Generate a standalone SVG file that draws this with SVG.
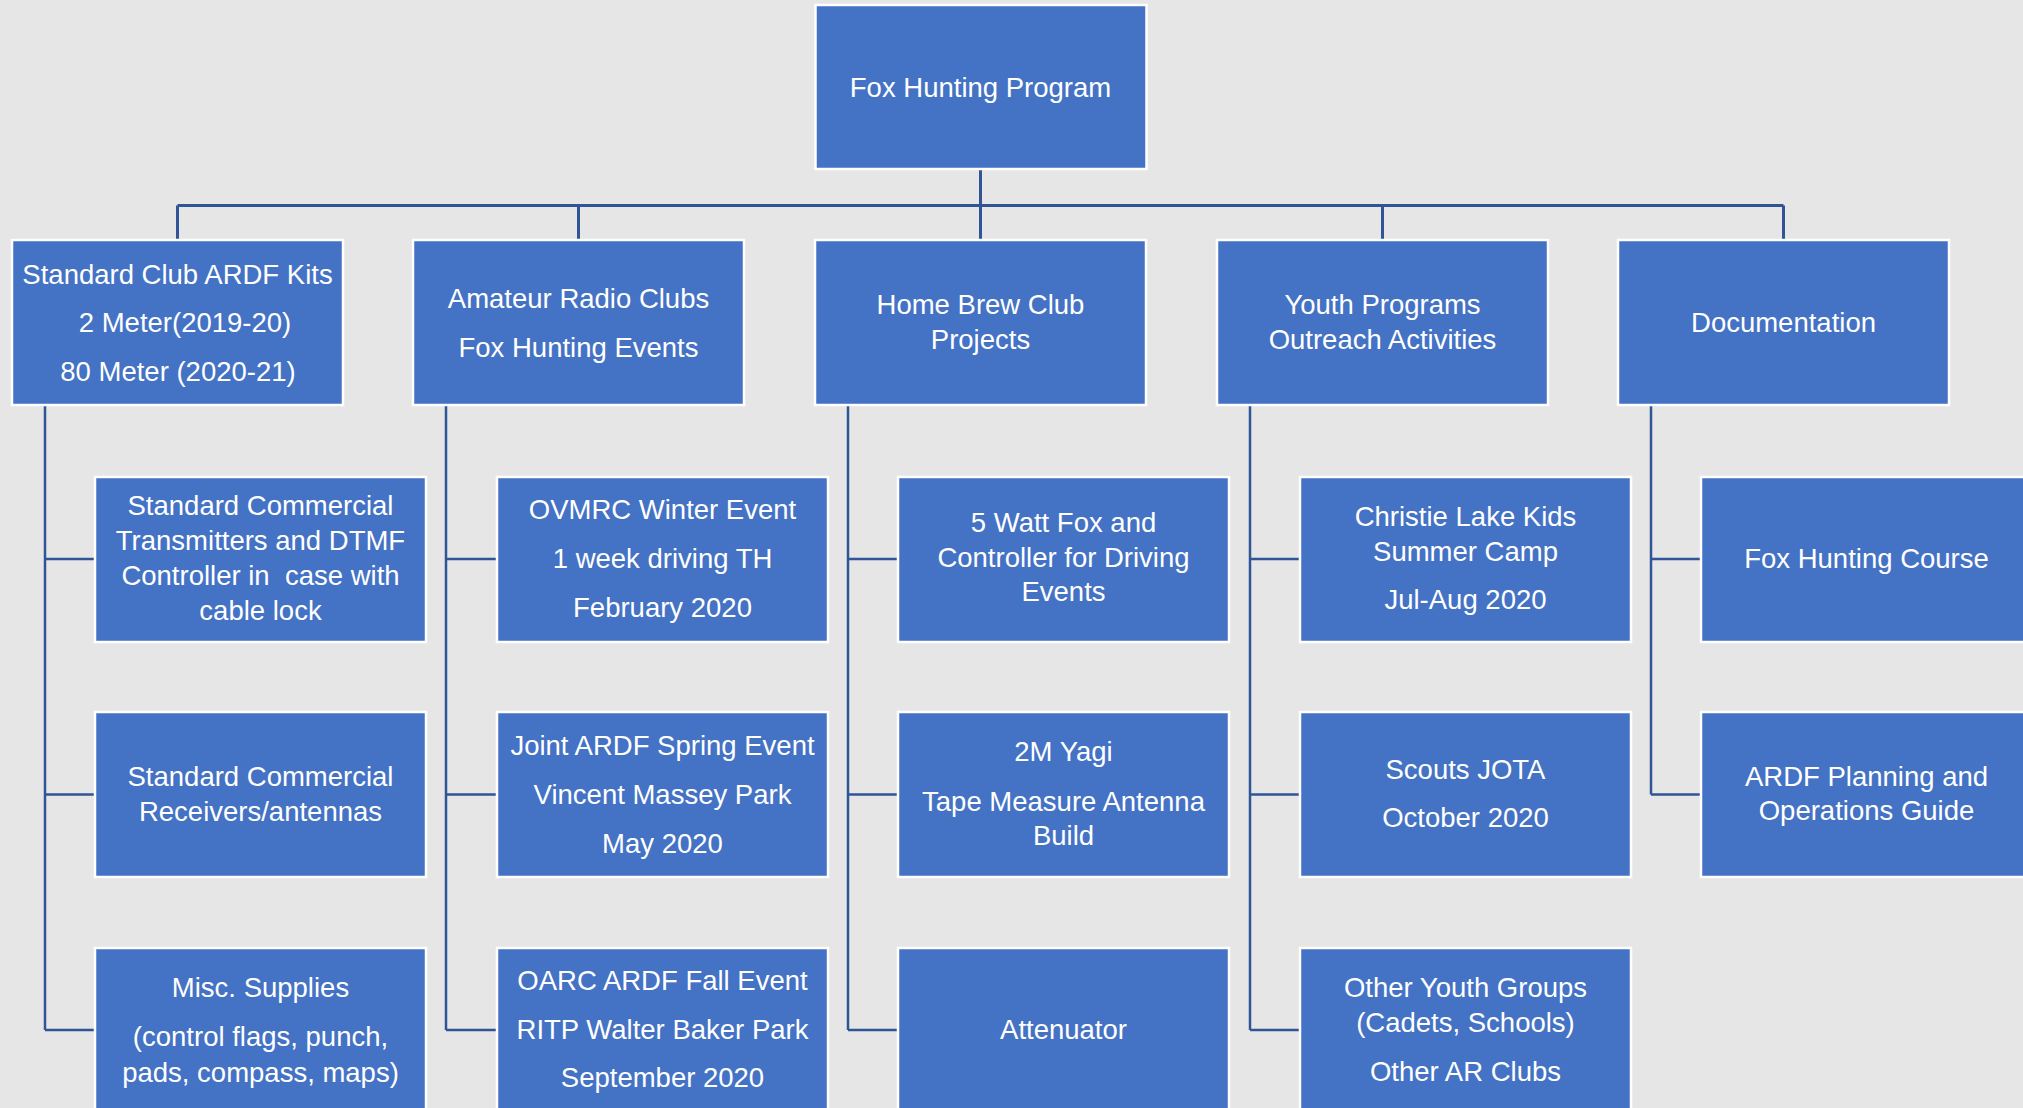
<svg xmlns="http://www.w3.org/2000/svg" width="2023" height="1108" viewBox="0 0 2023 1108">
<style>
.bg{fill:#E7E6E6}
.box{fill:#4472C4;stroke:#FFFFFF;stroke-width:2.5}
.t{font-family:"Liberation Sans",Arial,sans-serif;font-size:27.5px;fill:#FFFFFF;text-anchor:middle;white-space:pre}
.c{stroke:#2F5597;fill:none;stroke-width:2.5}
.bus{stroke:#2F5597;fill:none;stroke-width:3}
</style>
<rect class="bg" x="0" y="0" width="2023" height="1108"/>
<g id="connectors">
  <path class="bus" d="M980.5 169V205.5M177.5 205.5H1783.5M177.5 205.5V240M578.5 205.5V240M980.5 205.5V240M1382.5 205.5V240M1783.5 205.5V240"/>
  <path class="c" d="M45 405V1030M45 559H95M45 794.5H95M45 1030H95"/>
  <path class="c" d="M446 405V1030M446 559H497M446 794.5H497M446 1030H497"/>
  <path class="c" d="M848 405V1030M848 559H898M848 794.5H898M848 1030H898"/>
  <path class="c" d="M1250 405V1030M1250 559H1300M1250 794.5H1300M1250 1030H1300"/>
  <path class="c" d="M1651 405V794.5M1651 559H1701M1651 794.5H1701"/>
</g>
<g id="root"><rect class="box" x="815.5" y="5" width="331" height="164"/><text class="t" x="980.5" y="97">Fox Hunting Program</text></g>
<g id="kits"><rect class="box" x="12" y="240" width="331" height="165"/><text class="t" x="177.5" y="283.5">Standard Club ARDF Kits</text><text class="t" x="185" y="332">2 Meter(2019-20)</text><text class="t" x="178" y="381">80 Meter (2020-21)</text></g>
<g id="clubs"><rect class="box" x="413" y="240" width="331" height="165"/><text class="t" x="578.5" y="308">Amateur Radio Clubs</text><text class="t" x="578.5" y="357">Fox Hunting Events</text></g>
<g id="homebrew"><rect class="box" x="815" y="240" width="331" height="165"/><text class="t" x="980.5" y="314">Home Brew Club</text><text class="t" x="980.5" y="349">Projects</text></g>
<g id="youth"><rect class="box" x="1217" y="240" width="331" height="165"/><text class="t" x="1382.5" y="314">Youth Programs</text><text class="t" x="1382.5" y="349">Outreach Activities</text></g>
<g id="docs"><rect class="box" x="1618" y="240" width="331" height="165"/><text class="t" x="1783.5" y="332">Documentation</text></g>

<g id="transmitters"><rect class="box" x="95" y="477" width="331" height="165"/><text class="t" x="260.5" y="514.5">Standard Commercial</text><text class="t" x="260.5" y="549.5">Transmitters and DTMF</text><text class="t" x="260.5" y="584.5">Controller in  case with</text><text class="t" x="260.5" y="620">cable lock</text></g>
<g id="receivers"><rect class="box" x="95" y="712" width="331" height="165"/><text class="t" x="260.5" y="785.5">Standard Commercial</text><text class="t" x="260.5" y="821">Receivers/antennas</text></g>
<g id="misc"><rect class="box" x="95" y="948" width="331" height="170"/><text class="t" x="260.5" y="996.5">Misc. Supplies</text><text class="t" x="260.5" y="1045.5">(control flags, punch,</text><text class="t" x="260.5" y="1082">pads, compass, maps)</text></g>

<g id="ovmrc"><rect class="box" x="497" y="477" width="331" height="165"/><text class="t" x="662.5" y="519">OVMRC Winter Event</text><text class="t" x="662.5" y="568">1 week driving TH</text><text class="t" x="662.5" y="616.5">February 2020</text></g>
<g id="spring"><rect class="box" x="497" y="712" width="331" height="165"/><text class="t" x="662.5" y="754.5">Joint ARDF Spring Event</text><text class="t" x="662.5" y="803.5">Vincent Massey Park</text><text class="t" x="662.5" y="852.5">May 2020</text></g>
<g id="fall"><rect class="box" x="497" y="948" width="331" height="170"/><text class="t" x="662.5" y="990">OARC ARDF Fall Event</text><text class="t" x="662.5" y="1039">RITP Walter Baker Park</text><text class="t" x="662.5" y="1087">September 2020</text></g>

<g id="fox5w"><rect class="box" x="898" y="477" width="331" height="165"/><text class="t" x="1063.5" y="531.5">5 Watt Fox and</text><text class="t" x="1063.5" y="566.5">Controller for Driving</text><text class="t" x="1063.5" y="601">Events</text></g>
<g id="yagi"><rect class="box" x="898" y="712" width="331" height="165"/><text class="t" x="1063.5" y="761">2M Yagi</text><text class="t" x="1063.5" y="810.5">Tape Measure Antenna</text><text class="t" x="1063.5" y="845">Build</text></g>
<g id="attenuator"><rect class="box" x="898" y="948" width="331" height="170"/><text class="t" x="1063.5" y="1039">Attenuator</text></g>

<g id="christie"><rect class="box" x="1300" y="477" width="331" height="165"/><text class="t" x="1465.5" y="525.5">Christie Lake Kids</text><text class="t" x="1465.5" y="560.5">Summer Camp</text><text class="t" x="1465.5" y="609">Jul-Aug 2020</text></g>
<g id="jota"><rect class="box" x="1300" y="712" width="331" height="165"/><text class="t" x="1465.5" y="778.5">Scouts JOTA</text><text class="t" x="1465.5" y="827">October 2020</text></g>
<g id="otheryouth"><rect class="box" x="1300" y="948" width="331" height="170"/><text class="t" x="1465.5" y="996.5">Other Youth Groups</text><text class="t" x="1465.5" y="1032">(Cadets, Schools)</text><text class="t" x="1465.5" y="1080.5">Other AR Clubs</text></g>

<g id="course"><rect class="box" x="1701" y="477" width="331" height="165"/><text class="t" x="1866.5" y="567.5">Fox Hunting Course</text></g>
<g id="guide"><rect class="box" x="1701" y="712" width="331" height="165"/><text class="t" x="1866.5" y="785.5">ARDF Planning and</text><text class="t" x="1866.5" y="819.5">Operations Guide</text></g>
</svg>
